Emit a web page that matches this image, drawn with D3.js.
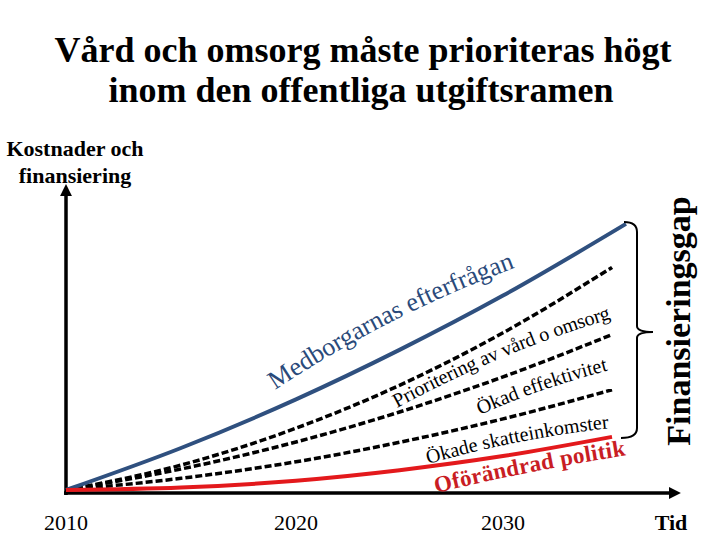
<!DOCTYPE html>
<html>
<head>
<meta charset="utf-8">
<script src="https://cdnjs.cloudflare.com/ajax/libs/d3/7.8.5/d3.min.js"></script>
<style>
  body { margin: 0; background: #fff; }
  svg { display: block; font-family: "Liberation Serif", "DejaVu Serif", serif; }
</style>
</head>
<body>
<svg id="chart" width="720" height="540"></svg>
<script>
// time axis
var years = [2010, 2015, 2020, 2025, 2030, 2035];
var demandYears = [2010, 2015, 2020, 2025, 2030, 2035.64];
var tickYears = [2010, 2020, 2030];

// costs and financing (schematic index)
var demand = [0, 14.0, 30.2, 46.7, 64.8, 88.7];     // Medborgarnas efterfrågan
var priority = [0, 8.3, 20.6, 34.9, 52.4, 74.2];    // Prioritering av vård o omsorg
var efficiency = [0, 7.0, 16.0, 26.0, 37.7, 51.8];  // Ökad effektivitet
var taxes = [0, 3.9, 9.4, 15.9, 23.7, 33.4];        // Ökade skatteinkomster
var unchanged = [0, 0.8, 3.1, 6.6, 11.3, 17.7];     // Oförändrad politik

var svg = d3.select("#chart");

// the year labels in the picture are not evenly spaced, so the scale is piecewise
var x = d3.scaleLinear().domain([2010, 2020, 2030, 2035]).range([66, 296, 503, 612]);
var y = d3.scaleLinear().domain([0, 100]).range([490, 190]);

// title
svg.append("text").attr("x", 363).attr("y", 62).attr("text-anchor", "middle")
    .style("font-size", "36px").style("font-weight", "bold")
    .text("Vård och omsorg måste prioriteras högt");
svg.append("text").attr("x", 361).attr("y", 102).attr("text-anchor", "middle")
    .style("font-size", "36px").style("font-weight", "bold")
    .text("inom den offentliga utgiftsramen");

// y axis label
svg.append("text").attr("x", 75).attr("y", 156).attr("text-anchor", "middle")
    .style("font-size", "22px").style("font-weight", "bold").text("Kostnader och");
svg.append("text").attr("x", 75).attr("y", 183).attr("text-anchor", "middle")
    .style("font-size", "22px").style("font-weight", "bold").text("finansiering");

// arrow heads
var defs = svg.append("defs");
defs.append("marker")
    .attr("id", "arrow")
    .attr("viewBox", "0 0 10 10")
    .attr("refX", 0).attr("refY", 5)
    .attr("markerWidth", 3.4).attr("markerHeight", 3.4)
    .attr("orient", "auto")
    .append("path").attr("d", "M0,0L10,5L0,10z").attr("fill", "#000");

// axes
svg.append("line").attr("x1", 66).attr("y1", 495).attr("x2", 66).attr("y2", 196)
    .attr("stroke", "#000").attr("stroke-width", 3.5).attr("marker-end", "url(#arrow)");
svg.append("line").attr("x1", 64).attr("y1", 493).attr("x2", 669).attr("y2", 493)
    .attr("stroke", "#000").attr("stroke-width", 3.5).attr("marker-end", "url(#arrow)");

// year labels
svg.selectAll(".year")
    .data(tickYears)
    .enter()
    .append("text")
    .attr("class", "year")
    .attr("x", d => x(d))
    .attr("y", 530)
    .attr("text-anchor", "middle")
    .style("font-size", "22px")
    .text(d => d);

svg.append("text").attr("x", 671).attr("y", 530).attr("text-anchor", "middle")
    .style("font-size", "22px").style("font-weight", "bold").text("Tid");

// lines
var line = d3.line()
    .x(d => x(d[0]))
    .y(d => y(d[1]))
    .curve(d3.curveMonotoneX);

function pairs(xs, vs) {
    return xs.map((d, i) => [d, vs[i]]);
}

[priority, efficiency, taxes].forEach(function(series) {
    svg.append("path")
        .attr("d", line(pairs(years, series)))
        .attr("fill", "none")
        .attr("stroke", "#000")
        .attr("stroke-width", 3.5)
        .attr("stroke-dasharray", "7,3");
});

svg.append("path")
    .attr("d", line(pairs(demandYears, demand)))
    .attr("fill", "none")
    .attr("stroke", "#2f507f")
    .attr("stroke-width", 4);

svg.append("path")
    .attr("d", line(pairs(years, unchanged)))
    .attr("fill", "none")
    .attr("stroke", "#e3191c")
    .attr("stroke-width", 4);

// bracket for the financing gap
svg.append("path")
    .attr("d", "M624,222 Q637,222 637,232 L637,326 Q637,332 653,332 Q637,332 637,338 L637,428 Q637,438 621,438")
    .attr("fill", "none")
    .attr("stroke", "#000")
    .attr("stroke-width", 2);

svg.append("text")
    .attr("transform", "translate(690,321) rotate(-90)")
    .attr("text-anchor", "middle")
    .style("font-size", "34px").style("font-weight", "bold")
    .text("Finansieringsgap");

// arched labels along the curves
function arcPath(x0, y0, x1, y1, bulge) {
    var dx = x1 - x0, dy = y1 - y0;
    var L = Math.sqrt(dx * dx + dy * dy);
    var cx = (x0 + x1) / 2 + dy / L * bulge * 2;
    var cy = (y0 + y1) / 2 - dx / L * bulge * 2;
    return "M" + x0 + "," + y0 + " Q" + cx + "," + cy + " " + x1 + "," + y1;
}

var arcLabels = [
    {id: "l1", text: "Medborgarnas efterfrågan", p: [275, 390, 517, 267], bulge: 8, size: 26, weight: "normal", color: "#2a4a7a"},
    {id: "l2", text: "Prioritering av vård o omsorg", p: [397, 408, 613, 318], bulge: 6, size: 20, weight: "normal", color: "#000"},
    {id: "l3", text: "Ökad effektivitet", p: [480, 415, 610, 370], bulge: 3, size: 20, weight: "normal", color: "#000"},
    {id: "l4", text: "Ökade skatteinkomster", p: [428, 464, 611, 428], bulge: 4, size: 20, weight: "normal", color: "#000"},
    {id: "l5", text: "Oförändrad politik", p: [436, 493, 628, 455], bulge: 2, size: 23, weight: "bold", color: "#c91d24"}
];

arcLabels.forEach(function(l) {
    var p = defs.append("path")
        .attr("id", l.id)
        .attr("d", arcPath(l.p[0], l.p[1], l.p[2], l.p[3], l.bulge));
    var len = p.node().getTotalLength();
    svg.append("text")
        .style("font-size", l.size + "px")
        .style("font-weight", l.weight)
        .attr("fill", l.color)
        .append("textPath")
        .attr("href", "#" + l.id)
        .attr("textLength", len - 2)
        .attr("lengthAdjust", "spacing")
        .text(l.text);
});
</script>
</body>
</html>
